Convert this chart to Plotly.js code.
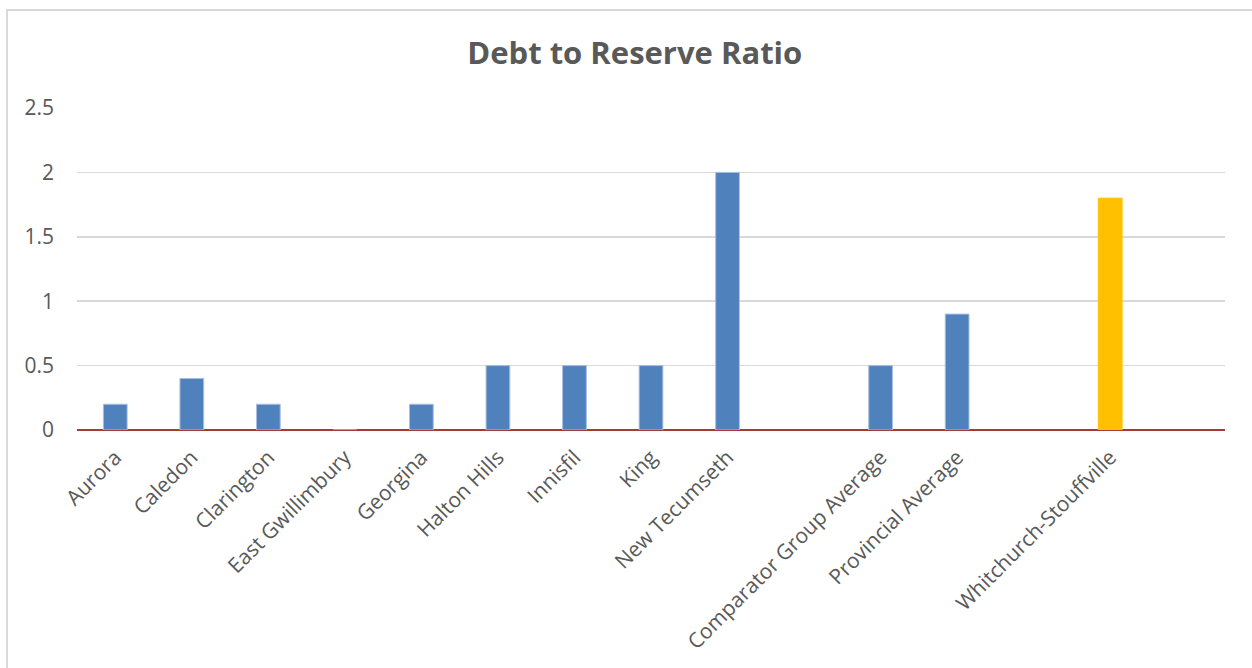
<!DOCTYPE html>
<html>
<head>
<meta charset="utf-8">
<script src="https://cdn.plot.ly/plotly-3.0.1.min.js"></script>
<style>
html,body{margin:0;padding:0;background:#fff;overflow:hidden;}
#frame{position:absolute;left:6px;top:9px;width:1400px;height:800px;border-left:2px solid #d9d9d9;border-top:2px solid #d9d9d9;box-sizing:border-box;}
#chart{position:absolute;left:0;top:0;width:1252px;height:668px;}
</style>
</head>
<body>
<div id="frame"></div>
<div id="chart"></div>
<script>
var categories = ["Aurora","Caledon","Clarington","East Gwillimbury","Georgina","Halton Hills","Innisfil","King","New Tecumseth"," ","Comparator Group Average","Provincial Average","  ","Whitchurch-Stouffville","   "];
var ratios = [0.2,0.4,0.2,0,0.2,0.5,0.5,0.5,2.0,null,0.5,0.9,null,1.8,null];
var highlight = "Whitchurch-Stouffville";
var yTicks = [0,0.5,1,1.5,2,2.5];
var yTickText = ["0","0.5","1","1.5","2","2.5"];

var fillColors = categories.map(function(c){ return c===highlight ? "#FFC000" : "#4F81BD"; });
var lineColors = categories.map(function(c){ return c===highlight ? "#FFC000" : "#A7BFDE"; });

var trace = {
  type: "bar",
  x: categories,
  y: ratios,
  width: 0.31,
  marker: {color: fillColors, line: {color: lineColors, width: 1}},
  hoverinfo: "x+y"
};

var layout = {
  width: 1252, height: 668,
  paper_bgcolor: "rgba(0,0,0,0)",
  plot_bgcolor: "rgba(0,0,0,0)",
  margin: {l: 77, r: 27, t: 108, b: 238},
  showlegend: false,
  title: {
    text: "<b>Debt to Reserve Ratio</b>",
    font: {family: "Open Sans", size: 31, color: "#595959"},
    x: 0.507, xanchor: "center",
    y: 1 - 53/668, yref: "container", yanchor: "middle"
  },
  xaxis: {
    type: "category",
    categoryorder: "array",
    categoryarray: categories,
    tickangle: -45,
    ticks: "",
    showgrid: false,
    showline: false,
    zeroline: false,
    automargin: false,
    ticklabelstandoff: 10,
    tickfont: {family: "Open Sans", size: 21, color: "#595959"}
  },
  yaxis: {
    range: [0, 2.5],
    tickvals: yTicks,
    ticktext: yTickText,
    showgrid: true,
    gridcolor: "#d9d9d9",
    gridwidth: 1.5,
    zeroline: true,
    zerolinecolor: "#A63A36",
    zerolinewidth: 2,
    showline: false,
    ticks: "",
    automargin: false,
    ticklabelstandoff: 22,
    tickfont: {family: "Open Sans", size: 21, color: "#595959"}
  }
};

Plotly.newPlot("chart", [trace], layout, {displayModeBar: false, staticPlot: true});
</script>
</body>
</html>
